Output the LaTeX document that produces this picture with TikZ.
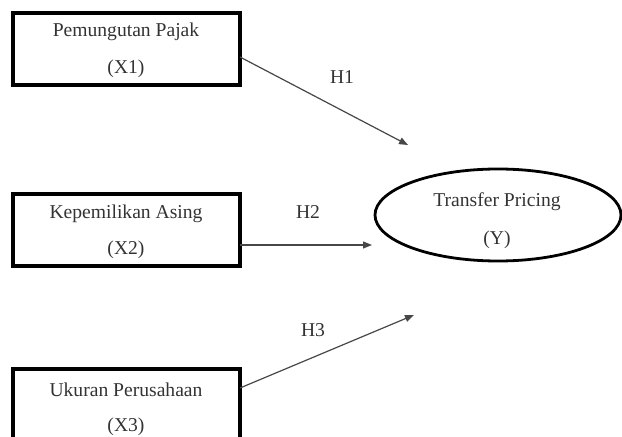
\documentclass[tikz,border=0pt]{standalone}
\usepackage{fontspec}
\setmainfont{Liberation Serif}
\usetikzlibrary{shapes.geometric,arrows.meta}
\definecolor{txt}{HTML}{333333}
\definecolor{ln}{HTML}{474747}
\begin{document}
\begin{tikzpicture}[x=1bp,y=-1bp,
  varbox/.style={draw=black,line width=3.2bp,minimum width=227bp,minimum height=72bp,inner sep=0pt},
  lbl/.style={text=txt,font=\fontsize{19.6bp}{23bp}\selectfont,inner sep=0pt},
  conn/.style={draw=ln,line width=1.2bp,-{Triangle[length=9bp,width=7bp]}}]
\useasboundingbox (0,0) rectangle (622,437);
\node[varbox] (x1) at (126.5,49) {};
\node[varbox] (x2) at (126.5,230) {};
\node[varbox] (x3) at (126.5,405) {};
\node[draw=black,line width=2.8bp,ellipse,minimum width=246bp,minimum height=92bp] (y) at (498,215) {};
\node[lbl] (t1a) at (126,32) {Pemungutan Pajak};
\node[lbl] (t1b) at (126,69) {(X1)};
\node[lbl] (t2a) at (126,214) {Kepemilikan Asing};
\node[lbl] (t2b) at (126,250) {(X2)};
\node[lbl] (t3a) at (126,390) {Ukuran Perusahaan};
\node[lbl] (t3b) at (126,427) {(X3)};
\node[lbl] (tya) at (497,202) {Transfer Pricing};
\node[lbl] (tyb) at (497,240) {(Y)};
\coordinate (e1) at (240,57);
\coordinate (a1) at (408,145);
\coordinate (e2) at (240,245);
\coordinate (a2) at (372,245);
\coordinate (e3) at (240,388);
\coordinate (a3) at (414,315);
\draw[conn] (e1) -- (a1);
\draw[conn] (e2) -- (a2);
\draw[conn] (e3) -- (a3);
\node[lbl] (h1) at (342,77) {H1};
\node[lbl] (h2) at (308,212) {H2};
\node[lbl] (h3) at (313,330) {H3};
\end{tikzpicture}
\end{document}
